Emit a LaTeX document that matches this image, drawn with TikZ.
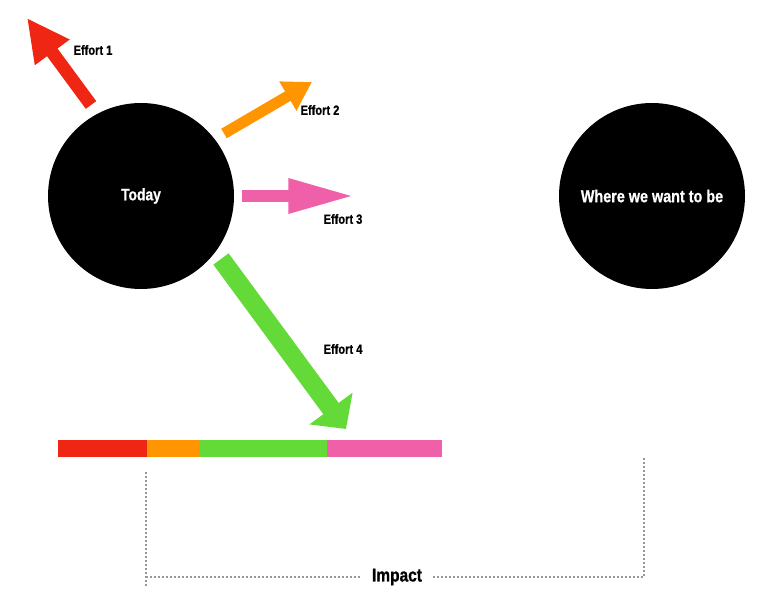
\documentclass[tikz,border=0pt]{standalone}
\usepackage{fontspec}
\newfontfamily\condfont{Liberation Sans}[FakeStretch=0.83,BoldFeatures={FakeBold=0.8}]
\usetikzlibrary{arrows.meta}
\definecolor{cred}{RGB}{240,38,20}
\definecolor{corange}{RGB}{255,149,0}
\definecolor{cgreen}{RGB}{99,218,56}
\definecolor{cpink}{RGB}{239,96,168}
\definecolor{cdot}{RGB}{150,150,150}
\tikzset{
  bigcircle/.style={circle,fill=black,minimum size=139.5pt,inner sep=0pt,text=white,font=\condfont\bfseries\fontsize{12.5}{14}\selectfont},
  efflabel/.style={font=\condfont\bfseries\fontsize{10}{12}\selectfont,inner sep=0pt},
  dotline/.style={draw=cdot,line width=2pt,dash pattern=on 1.5pt off 1.5pt},
}
\begin{document}
\begin{tikzpicture}[x=0.75pt,y=-0.75pt]
\useasboundingbox (0,0) rectangle (768,591);
\node[bigcircle] (today) at (141,196) {Today};
\node[bigcircle,font=\condfont\bfseries\fontsize{13}{15}\selectfont] (goal) at (652,196) {Where we want to be};
% effort arrows
\coordinate (t1) at (91,105); \coordinate (e1) at (27,18);
\coordinate (t2) at (224,133.5); \coordinate (e2) at (312,82);
\coordinate (t3) at (242,196); \coordinate (e3) at (355,196);
\coordinate (t4) at (221,259); \coordinate (e4) at (346,429);
\draw[cred,line width=9.75pt,-{Triangle[length=32pt,width=30pt]}] (t1) -- (e1);
\draw[corange,line width=8.25pt,-{Triangle[length=21pt,width=24pt]}] (t2) -- (e2);
\draw[cpink,line width=9pt,-{Triangle[length=50pt,width=24pt]}] (t3) -- (e3);
\draw[cgreen,line width=14.25pt,-{Triangle[length=19pt,width=39pt]}] (t4) -- (e4);
\node[efflabel] (l1) at (93,50) {Effort 1};
\node[efflabel] (l2) at (320,110) {Effort 2};
\node[efflabel] (l3) at (343,219) {Effort 3};
\node[efflabel] (l4) at (343,349) {Effort 4};
% bar
\fill[cred] (58,440) rectangle (147,457);
\fill[corange] (147,440) rectangle (199,457);
\fill[cgreen] (199,440) rectangle (327,457);
\fill[cpink] (327,440) rectangle (442,457);
% bracket
\node[font=\condfont\bfseries\fontsize{14}{16}\selectfont,inner sep=0pt,minimum width=54pt] (impact) at (397,577) {Impact};
\coordinate (la) at (146,472); \coordinate (lb) at (146,588); \coordinate (lc) at (146,577);
\coordinate (ra) at (644,458); \coordinate (rc) at (644,577);
\draw[dotline] (la) -- (lb);
\draw[dotline] (lc) -- (impact.west);
\draw[dotline] (impact.east) -- (rc) -- (ra);
\end{tikzpicture}
\end{document}
